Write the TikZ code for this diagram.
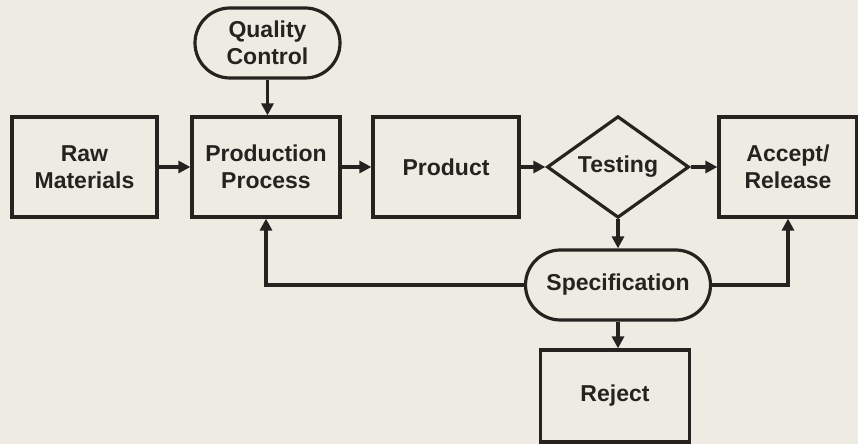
\documentclass[tikz,border=0pt]{standalone}
\usepackage{fontspec}
\setmainfont{Liberation Sans}
\usetikzlibrary{arrows.meta,shapes.geometric}
\definecolor{paper}{RGB}{238,236,226}
\definecolor{ink}{RGB}{38,34,32}
\begin{document}
\begin{tikzpicture}[x=1pt,y=1pt,
  every node/.style={font=\bfseries\fontsize{23}{27}\selectfont, text=ink, align=center},
  box/.style={draw=ink, line width=3.2pt, rectangle, inner sep=0pt},
  pill/.style={draw=ink, line width=3.2pt, rectangle, rounded corners=35pt, inner sep=0pt, minimum height=70pt},
  decision/.style={draw=ink, line width=3.2pt, diamond, inner sep=0pt, minimum width=142pt, minimum height=100pt},
  flow/.style={draw=ink, line width=3.2pt, -{Triangle[length=12pt,width=12pt]}}]
  % background and page size
  \fill[paper] (0,0) rectangle (858,444);
  \useasboundingbox (0,0) rectangle (858,444);

  % nodes
  \node[box, minimum width=145pt, minimum height=100pt] (raw) at (84.5,277) {Raw\\Materials};
  \node[box, minimum width=148pt, minimum height=100pt] (prod) at (266,277) {Production\\Process};
  \node[box, minimum width=146pt, minimum height=100pt] (product) at (446,277) {Product};
  \node[decision] (test) at (618,277) {Testing};
  \node[box, minimum width=138pt, minimum height=100pt] (accept) at (788,277) {Accept/\\Release};
  \node[pill, minimum width=145pt] (qc) at (267.5,401) {Quality\\Control};
  \node[pill, minimum width=185pt] (spec) at (618,159) {Specification};
  \node[box, minimum width=149pt, minimum height=92pt] (reject) at (615,48) {Reject};

  % connectors
  \draw[flow] (raw.east) -- (prod.west);
  \draw[flow] (qc.south) -- (qc.south |- prod.north);
  \draw[flow] (prod.east) -- (product.west);
  \draw[flow] (product.east) -- (test.west);
  \draw[flow] (test.east) -- (accept.west);
  \draw[flow] (test.south) -- (spec.north);
  \draw[flow] (spec.south) -- (spec.south |- reject.north);
  \draw[flow] (spec.west) -| (prod.south);
  \draw[flow] (spec.east) -| (accept.south);
\end{tikzpicture}
\end{document}
